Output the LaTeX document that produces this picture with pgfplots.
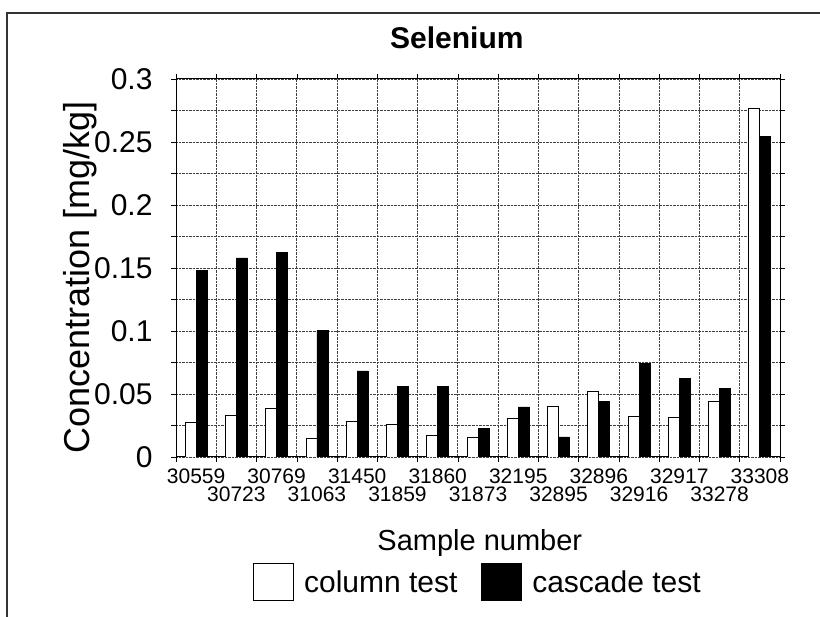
\documentclass[border=0pt]{standalone}
\usepackage{fontspec}
\setmainfont{Liberation Sans}
\usepackage{pgfplots}
\usepackage{pgfplotstable}
\pgfplotsset{compat=1.18}

% sample index, column test, cascade test  [mg/kg]
\pgfplotstableread{
idx column cascade
0  0.0275 0.148
1  0.0330 0.158
2  0.0386 0.1624
3  0.0150 0.1003
4  0.0283 0.0683
5  0.0260 0.0560
6  0.0172 0.0560
7  0.0159 0.0225
8  0.0310 0.0397
9  0.0402 0.0159
10 0.0519 0.0442
11 0.0323 0.0746
12 0.0312 0.0624
13 0.0442 0.0542
14 0.2765 0.2545
}\selenium

\begin{document}
\begin{tikzpicture}
  \useasboundingbox (0,0) rectangle (820bp,617bp);
  %%% outer frame (left and top only)
  \draw[black!80, line width=1.2bp] (7bp,0) -- (7bp,604bp) -- (820bp,604bp);

  \begin{axis}[
    at = {(176bp,160bp)},
    anchor = south west,
    scale only axis,
    width = 604bp,
    height = 378bp,
    ybar = 0pt,
    bar width = 11bp,
    xmin = -0.5, xmax = 14.5,
    ymin = 0, ymax = 0.3,
    /pgf/number format/assume math mode=true,
    %%% x ticks: labels in two rows, grid at the category boundaries
    xtick = {0,2,...,14},
    xticklabels = {30559,30769,31450,31860,32195,32896,32917,33308},
    extra x ticks = {1,3,...,13},
    extra x tick labels = {30723,31063,31859,31873,32895,32916,33278},
    extra x tick style = {grid=none, xticklabel style={yshift=-18bp}},
    minor xtick = {-0.5,0.5,...,14.5},
    every major x tick/.append style = {opacity=0},
    xticklabel style = {font=\fontsize{21bp}{23bp}\selectfont, yshift=-3bp},
    %%% y ticks
    ytick = {0,0.05,...,0.3},
    minor y tick num = 1,
    scaled y ticks = false,
    yticklabel style = {font=\fontsize{30bp}{32bp}\selectfont,
      /pgf/number format/fixed, /pgf/number format/precision=2, xshift=-15bp},
    tick align = outside,
    major tick length = 5bp,
    minor tick length = 5bp,
    tick style = {black, line width=0.6bp},
    xminorgrids, ymajorgrids, yminorgrids,
    major grid style = {densely dotted, black!75, line width=0.8bp},
    minor grid style = {densely dotted, black!75, line width=0.8bp},
    axis line style = {black, line width=1bp},
    %%% labels
    title = {\textbf{Selenium}},
    title style = {font=\fontsize{30bp}{32bp}\selectfont,
      at={(rel axis cs:0.465,1.092)}, anchor=center},
    xlabel = {Sample number},
    xlabel style = {font=\fontsize{29bp}{31bp}\selectfont,
      at={(rel axis cs:0.503,-0.2275)}, anchor=center},
    ylabel = {Concentration [mg/kg]},
    ylabel style = {font=\fontsize{36bp}{38bp}\selectfont,
      at={(rel axis cs:-0.159,0.474)}, anchor=center},
    %%% legend
    legend columns = 2,
    legend style = {draw=none, at={(0.5,-0.331)}, anchor=center,
      font=\fontsize{30bp}{32bp}\selectfont,
      /tikz/every odd column/.append style={column sep=8bp},
      /tikz/every even column/.append style={column sep=22bp}},
    legend image code/.code = {\draw[#1] (0bp,-18bp) rectangle (40bp,19bp);},
    ]
    \addplot [draw=black, fill=white, line width=0.8bp]
      table [x=idx, y=column] {\selenium};
    \addplot [draw=black, fill=black, line width=0.8bp]
      table [x=idx, y=cascade] {\selenium};
    \legend{column test, cascade test}
  \end{axis}
\end{tikzpicture}
\end{document}
